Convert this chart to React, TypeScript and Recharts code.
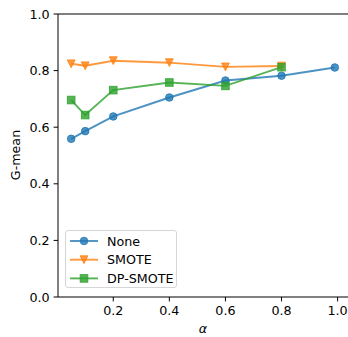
import { LineChart, Line, XAxis, YAxis, ReferenceLine, Legend } from 'recharts';

// alpha values and G-mean per method
const xNone = [0.05, 0.1, 0.2, 0.4, 0.6, 0.8, 0.99];
const yNone = [0.559, 0.586, 0.638, 0.705, 0.765, 0.782, 0.811];
const xSmote = [0.05, 0.1, 0.2, 0.4, 0.6, 0.8];
const ySmote = [0.824, 0.817, 0.835, 0.828, 0.813, 0.816];
const xDp = [0.05, 0.1, 0.2, 0.4, 0.6, 0.8];
const yDp = [0.696, 0.643, 0.731, 0.758, 0.746, 0.812];

const xTicks = [0.2, 0.4, 0.6, 0.8, 1.0];
const yTicks = [0, 0.2, 0.4, 0.6, 0.8, 1.0];

const toRows = (xs: number[], ys: number[]) => xs.map((x, i) => ({ x, y: ys[i] }));

const BLUE = '#1f77b4';
const ORANGE = '#ff7f0e';
const GREEN = '#2ca02c';
const FONT = '"DejaVu Sans", sans-serif';
const FS = 12.7;

type Shape = 'circle' | 'tri' | 'square';

function marker(shape: Shape, color: string, cx: number, cy: number, key?: any) {
  const common = { fill: color, fillOpacity: 0.8, stroke: color, strokeOpacity: 0.8, strokeWidth: 1 };
  if (shape === 'circle') return <circle key={key} cx={cx} cy={cy} r={3.8} {...common} />;
  if (shape === 'tri')
    return (
      <polygon
        key={key}
        points={`${cx - 3.9},${cy - 3.9} ${cx + 3.9},${cy - 3.9} ${cx},${cy + 3.9}`}
        {...common}
      />
    );
  return <rect key={key} x={cx - 3.8} y={cy - 3.8} width={7.6} height={7.6} {...common} />;
}

const series = [
  { name: 'None', color: BLUE, shape: 'circle' as Shape, data: toRows(xNone, yNone) },
  { name: 'SMOTE', color: ORANGE, shape: 'tri' as Shape, data: toRows(xSmote, ySmote) },
  { name: 'DP-SMOTE', color: GREEN, shape: 'square' as Shape, data: toRows(xDp, yDp) },
];

function LegendBox() {
  return (
    <div
      style={{
        width: 112,
        height: 58,
        border: '1px solid #d6d6d6',
        borderRadius: 3,
        background: 'rgba(255,255,255,0.8)',
        fontFamily: FONT,
        fontSize: FS,
        boxSizing: 'border-box',
      }}
    >
      <svg width={112} height={58} style={{ display: 'block' }}>
        {series.map((s, i) => {
          const cy = 10 + i * 18.7;
          return (
            <g key={s.name}>
              <line x1={4} x2={32} y1={cy} y2={cy} stroke={s.color} strokeOpacity={0.8} strokeWidth={1.9} />
              {marker(s.shape, s.color, 18, cy)}
              <text x={41} y={cy} dy="0.36em" fill="#000" fontFamily={FONT} fontSize={FS}>
                {s.name}
              </text>
            </g>
          );
        })}
      </svg>
    </div>
  );
}

export default function App() {
  return (
    <div style={{ position: 'absolute', left: 0, top: 0, width: 348, height: 337, background: '#fff' }}>
      <LineChart width={348} height={337} margin={{ top: 14, right: 0, left: 0, bottom: 0 }}>
        <XAxis
          dataKey="x"
          type="number"
          domain={[0.003, 1.037]}
          allowDataOverflow
          ticks={xTicks}
          tickFormatter={(v: number) => v.toFixed(1)}
          height={40}
          tickSize={4.4}
          tickMargin={5}
          stroke="#000"
          tick={{ fill: '#000', fontFamily: FONT, fontSize: FS }}
          label={{
            content: () => (
              <text x={203} y={333} textAnchor="middle" fontFamily={FONT} fontStyle="italic" fontSize={FS}>
                α
              </text>
            ),
          }}
        />
        <YAxis
          type="number"
          domain={[0, 1]}
          ticks={yTicks}
          tickFormatter={(v: number) => v.toFixed(1)}
          width={58}
          tickSize={4.4}
          tickMargin={4}
          stroke="#000"
          tick={{ fill: '#000', fontFamily: FONT, fontSize: FS }}
          label={{
            content: () => (
              <text
                x={20}
                y={155}
                textAnchor="middle"
                transform="rotate(-90 20 155)"
                fontFamily={FONT}
                fontSize={FS}
              >
                G-mean
              </text>
            ),
          }}
        />
        <ReferenceLine y={1} stroke="#000" strokeWidth={1} ifOverflow="extendDomain" />
        {series.map((s) => (
          <Line
            key={s.name}
            data={s.data}
            dataKey="y"
            name={s.name}
            stroke={s.color}
            strokeOpacity={0.8}
            strokeWidth={1.9}
            isAnimationActive={false}
            dot={(p: any) => marker(s.shape, s.color, p.cx, p.cy, `${s.name}-${p.index}`)}
            activeDot={false}
          />
        ))}
        <Legend
          layout="horizontal"
          verticalAlign="middle"
          align="center"
          content={() => <LegendBox />}
          wrapperStyle={{ left: 65, top: 230, width: 114, height: 59 }}
        />
      </LineChart>
    </div>
  );
}
